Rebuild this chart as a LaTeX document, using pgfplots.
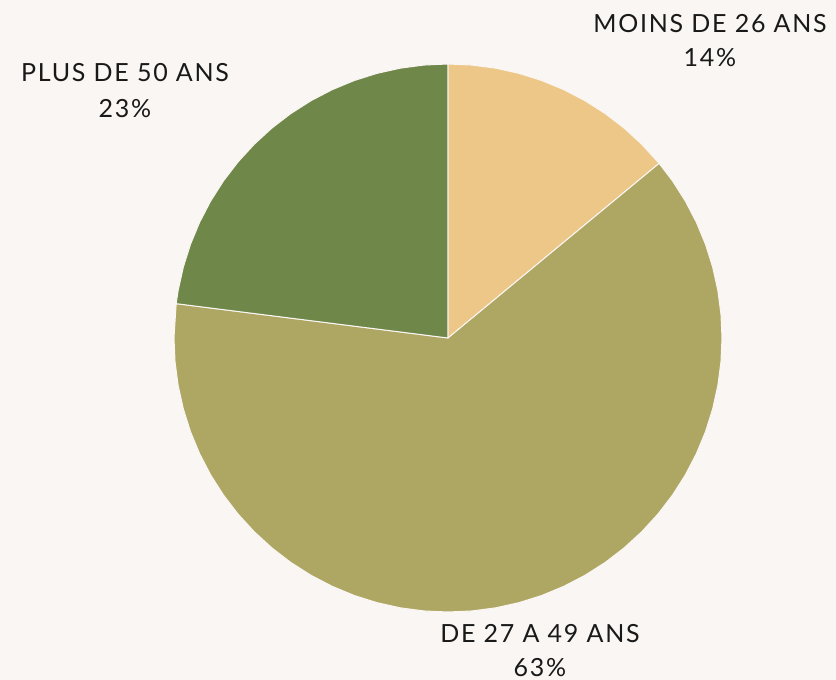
\documentclass[border=0pt]{standalone}
\usepackage{pgfplots}
\pgfplotsset{compat=1.18}
\usepgfplotslibrary{polar}
\usepackage{fontspec}
\setmainfont{Lato}[LetterSpace=7]
\definecolor{bg}{HTML}{FAF6F3}
\definecolor{peach}{HTML}{EDC787}
\definecolor{olive}{HTML}{AEA663}
\definecolor{leaf}{HTML}{70874A}
\begin{document}
\begin{tikzpicture}
\fill[bg] (0pt,0pt) rectangle (836pt,680pt);
\useasboundingbox (0pt,0pt) rectangle (836pt,680pt);
% parts: 14%, 63%, 23% -> angles (clockwise from top)
\begin{polaraxis}[
    at={(448pt,342pt)}, anchor=origin,
    width=548pt, scale only axis,
    ymin=0, ymax=1,
    hide axis, clip=false,
]
% Moins de 26 ans: 14%
\addplot[fill=peach, draw=bg, line width=1pt, mark=none] coordinates {
    (0,0) (39.6,1) (45,1) (50,1) (55,1) (60,1) (65,1) (70,1) (75,1) (80,1) (85,1) (90,1)
} -- cycle;
% De 27 a 49 ans: 63%
\addplot[fill=olive, draw=bg, line width=1pt, mark=none] coordinates {
    (0,0) (-187.2,1) (-180,1) (-175,1) (-170,1) (-165,1) (-160,1) (-155,1) (-150,1)
    (-145,1) (-140,1) (-135,1) (-130,1) (-125,1) (-120,1) (-115,1) (-110,1) (-105,1)
    (-100,1) (-95,1) (-90,1) (-85,1) (-80,1) (-75,1) (-70,1) (-65,1) (-60,1) (-55,1)
    (-50,1) (-45,1) (-40,1) (-35,1) (-30,1) (-25,1) (-20,1) (-15,1) (-10,1) (-5,1)
    (0,1) (5,1) (10,1) (15,1) (20,1) (25,1) (30,1) (35,1) (39.6,1)
} -- cycle;
% Plus de 50 ans: 23%
\addplot[fill=leaf, draw=bg, line width=1pt, mark=none] coordinates {
    (0,0) (90,1) (95,1) (100,1) (105,1) (110,1) (115,1) (120,1) (125,1) (130,1)
    (135,1) (140,1) (145,1) (150,1) (155,1) (160,1) (165,1) (170,1) (172.8,1)
} -- cycle;
\end{polaraxis}
\begin{scope}[every node/.style={anchor=base, inner sep=0pt, font=\fontsize{25}{30}\selectfont, text=black!90}]
\node at (710pt,647pt) {MOINS DE 26 ANS};
\node at (710pt,613pt) {14\%};
\node at (125pt,598pt) {PLUS DE 50 ANS};
\node at (125pt,562pt) {23\%};
\node at (540pt,37pt) {DE 27 A 49 ANS};
\node at (540pt,3pt) {63\%};
\end{scope}
\end{tikzpicture}
\end{document}
